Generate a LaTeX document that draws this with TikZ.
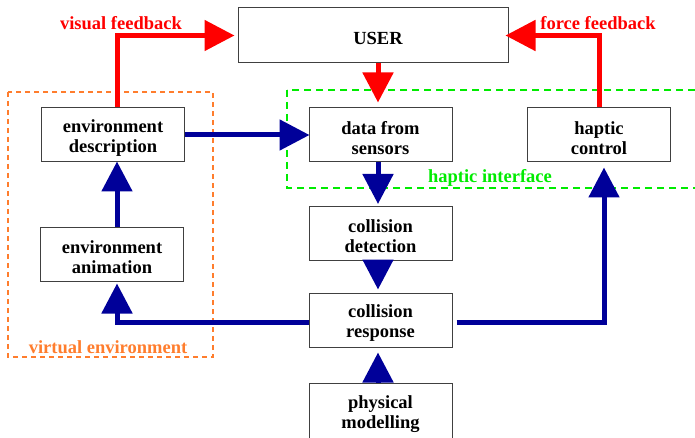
\documentclass[tikz,border=0pt]{standalone}
\usepackage{fontspec}
\setmainfont{Liberation Serif}
\usetikzlibrary{arrows.meta}
\definecolor{fbred}{RGB}{255,0,0}
\definecolor{flowblue}{RGB}{0,0,153}
\definecolor{veorange}{RGB}{255,125,45}
\definecolor{higreen}{RGB}{0,235,0}
% taller first line so the two-line text sits a little lower in its box
\newcommand{\firstline}{\rule{0pt}{19pt}}
\tikzset{
  blk/.style={draw=black!75, line width=1pt, minimum width=143pt, minimum height=54pt,
    align=center, inner sep=0pt, font=\fontsize{18.5}{20}\selectfont\bfseries},
  lbl/.style={font=\fontsize{18.5}{20}\selectfont\bfseries, inner sep=0pt},
  bigtip/.style={-{Triangle[length=30pt,width=30pt]}},
  redarrow/.style={bigtip, draw=fbred, line width=5pt},
  bluearrow/.style={bigtip, draw=flowblue, line width=5pt},
  zone/.style={line width=2pt, dash pattern=on 7pt off 5pt}
}
\begin{document}
\begin{tikzpicture}[x=1pt,y=-1pt]
\useasboundingbox (0,0) rectangle (695,438);

% grouping frames
\draw[zone, draw=veorange, dash pattern=on 5pt off 4pt] (8,92) rectangle (213,357);
\draw[zone, draw=higreen] (287,90) rectangle (705,188);

% blocks
\node[blk, minimum width=270pt, minimum height=55pt] (user) at (373,35.5) {};
\node[lbl] (usertxt) at (378,38) {USER};
\node[blk] (ed) at (113,135) {\firstline environment\\description};
\node[blk] (ds) at (380.5,135) {\firstline data from\\sensors};
\node[blk] (hc) at (599,135) {\firstline haptic\\control};
\node[blk] (ea) at (112,254) {\firstline environment\\animation};
\node[blk] (cd) at (380.5,233.5) {\firstline collision\\detection};
\node[blk] (cr) at (380.5,320) {\firstline collision\\response};
\node[blk, minimum height=57pt] (pm) at (380.5,411.5) {\firstline physical\\modelling};

% labels
\node[lbl, text=fbred] (vf) at (121,23) {visual feedback};
\node[lbl, text=fbred] (ff) at (598,23) {force feedback};
\node[lbl, text=higreen] (hi) at (490,178) {haptic interface};
\node[lbl, text=veorange] (ve) at (108,347) {virtual environment};

% feedback to the user
\draw[redarrow, shorten >=3pt] ([xshift=4pt]ed.north) |- (user.west);
\draw[redarrow, shorten >=-3pt] ([xshift=0pt]hc.north) |- (user.east);
\draw[redarrow, shorten >=5pt] ([xshift=-2.5pt]ds.north |- user.south) -- ([xshift=-2.5pt]ds.north);

% simulation loop
\draw[bluearrow, shorten >=-1pt] (ed.east) -- (ds.west);
\draw[bluearrow, shorten >=2pt] ([xshift=-2.5pt]ds.south) -- ([xshift=-2.5pt]cd.north);
\draw[bluearrow, shorten >=3pt] ([xshift=-2.5pt]cd.south) -- ([xshift=-2.5pt]cr.north);
\draw[bluearrow, shorten >=5pt] ([xshift=-2.5pt]pm.north) -- ([xshift=-2.5pt]cr.south);
\draw[bluearrow, shorten >=2pt] ([yshift=-2pt]cr.west) -| ([xshift=5pt]ea.south);
\draw[bluearrow, shorten >=-1pt] ([xshift=5pt]ea.north) -- ([xshift=4pt]ed.south);
\draw[bluearrow, shorten >=5pt] ([xshift=4pt,yshift=-2pt]cr.east) -| ([xshift=5pt]hc.south);
\end{tikzpicture}
\end{document}
